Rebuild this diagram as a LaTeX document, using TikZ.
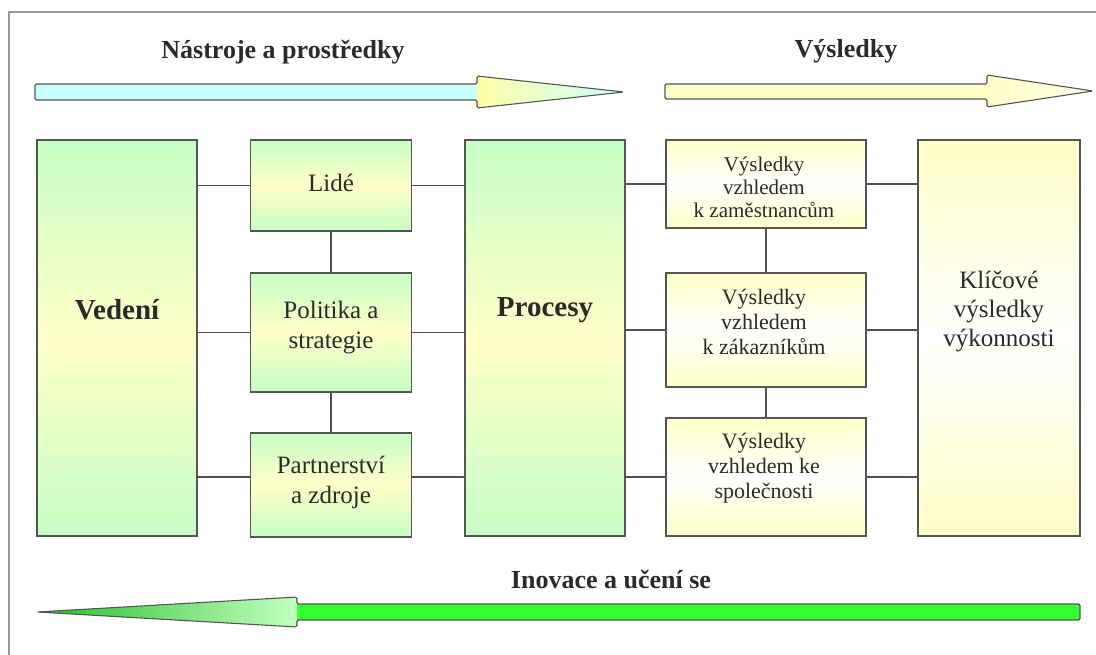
\documentclass[tikz,border=0pt]{standalone}
\usepackage{fontspec}
\setmainfont{Liberation Serif}
\definecolor{mint}{HTML}{C6FFC6}
\definecolor{cream}{HTML}{FFFFC8}
\definecolor{boxline}{HTML}{555555}
\definecolor{wire}{HTML}{505050}
\definecolor{aqua}{HTML}{C8FFFF}
\definecolor{brightgreen}{HTML}{33FF33}
\definecolor{ink}{HTML}{2A2A2A}
\begin{document}
\begin{tikzpicture}[x=1pt,y=-1pt,
  box/.style={draw=boxline, line width=1.2pt, inner sep=0pt},
  greenbox/.style={box, top color=mint, bottom color=mint, middle color=cream},
  yellowbox/.style={box, top color=cream, bottom color=cream, middle color=white},
  title/.style={text=ink, font=\bfseries\fontsize{26}{29}\selectfont},
  bigtext/.style={text=ink, font=\bfseries\fontsize{29}{32}\selectfont},
  lefttext/.style={text=ink, align=center, font=\fontsize{25}{30}\selectfont},
  righttext/.style={text=ink, align=center, font=\fontsize{22}{25}\selectfont},
  keytext/.style={text=ink, align=center, font=\fontsize{25}{29}\selectfont},
  wirestyle/.style={draw=wire, line width=1.2pt},
  outline/.style={draw=boxline, line width=1.1pt, line join=miter},
  framestyle/.style={draw=gray!80, line width=1.8pt}
]
\useasboundingbox (0,0) rectangle (1096,654);

% outer frame (only top and left edges fall inside the page)
\draw[framestyle] (9,660) -- (9,12) -- (1100,12);

% headings
\node[title] (t1) at (283,52) {Nástroje a prostředky};
\node[title] (t2) at (846,51) {Výsledky};
\node[title] (t3) at (611,579) {Inovace a učení se};

% arrow: tools and means
\fill[aqua] (35,84) -- (478,84) -- (478,100) -- (35,100) -- cycle;
\shade[left color=yellow!35, right color=aqua] (477,76) -- (624,92) -- (477,108) -- cycle;
\draw[outline, rounded corners=1.5] (35,84) -- (477,84) -- (477,76) -- (624,92) -- (477,108) -- (477,100) -- (35,100) -- cycle;

% arrow: results
\fill[cream] (665,84) -- (988,84) -- (988,99) -- (665,99) -- cycle;
\shade[left color=cream, right color=cream!45!white] (987,75) -- (1093,91) -- (987,107) -- cycle;
\draw[outline, rounded corners=1.5] (665,84) -- (987,84) -- (987,75) -- (1093,91) -- (987,107) -- (987,99) -- (665,99) -- cycle;

% arrow: innovation and learning (pointing left)
\fill[brightgreen] (1080,604) -- (296,604) -- (296,620) -- (1080,620) -- cycle;
\shade[left color=brightgreen!75!black, middle color=brightgreen, right color=brightgreen!30!white] (37,612) -- (297,597) -- (297,627) -- cycle;
\draw[outline, rounded corners=1.5] (1080,604) -- (297,604) -- (297,597) -- (37,612) -- (297,627) -- (297,620) -- (1080,620) -- cycle;

% enablers
\node[greenbox, minimum width=160, minimum height=396] (ved) at (117,338) {};
\node[greenbox, minimum width=161, minimum height=91] (lide) at (331,185.5) {};
\node[greenbox, minimum width=161, minimum height=119] (pol) at (331,332.5) {};
\node[greenbox, minimum width=161, minimum height=104] (part) at (331,485) {};
\node[greenbox, minimum width=160, minimum height=396] (proc) at (545,338) {};

% results
\node[yellowbox, minimum width=200, minimum height=88] (vys1) at (766,184) {};
\node[yellowbox, minimum width=200, minimum height=114] (vys2) at (766,330) {};
\node[yellowbox, minimum width=200, minimum height=118] (vys3) at (766,477) {};
\node[yellowbox, minimum width=162, minimum height=396] (klic) at (999,338) {};

% labels inside the boxes
\node[bigtext] (ved-t) at (117,310) {Vedení};
\node[bigtext] (proc-t) at (545,310) {Procesy};
\node[lefttext] (lide-t) at (331,183) {Lidé};
\node[lefttext] (pol-t) at (331,328) {Politika a\\strategie};
\node[lefttext] (part-t) at (331,482) {Partnerství\\a zdroje};
\node[righttext, font=\fontsize{21}{23}\selectfont] (vys1-t) at (764,187) {Výsledky\\vzhledem\\k zaměstnancům};
\node[righttext] (vys2-t) at (764,322) {Výsledky\\vzhledem\\k zákazníkům};
\node[righttext] (vys3-t) at (764,468) {Výsledky\\vzhledem ke\\společnosti};
\node[keytext] (klic-t) at (999,311) {Klíčové\\výsledky\\výkonnosti};

% connectors
\draw[wirestyle] (ved.east |- lide.west) -- (lide.west);
\draw[wirestyle] (ved.east |- pol.west) -- (pol.west);
\draw[wirestyle] (ved.east |- vys3.west) -- (part.west |- vys3.west);
\draw[wirestyle] (lide.east) -- (proc.west |- lide.east);
\draw[wirestyle] (pol.east) -- (proc.west |- pol.east);
\draw[wirestyle] (part.east |- vys3.west) -- (proc.west |- vys3.west);
\draw[wirestyle] (lide.south) -- (pol.north);
\draw[wirestyle] (pol.south) -- (part.north);

\draw[wirestyle] (proc.east |- vys1.west) -- (vys1.west);
\draw[wirestyle] (proc.east |- vys2.west) -- (vys2.west);
\draw[wirestyle] (proc.east |- vys3.west) -- (vys3.west);
\draw[wirestyle] (vys1.east) -- (klic.west |- vys1.east);
\draw[wirestyle] (vys2.east) -- (klic.west |- vys2.east);
\draw[wirestyle] (vys3.east) -- (klic.west |- vys3.east);
\draw[wirestyle] (vys1.south) -- (vys2.north);
\draw[wirestyle] (vys2.south) -- (vys3.north);
\end{tikzpicture}
\end{document}
